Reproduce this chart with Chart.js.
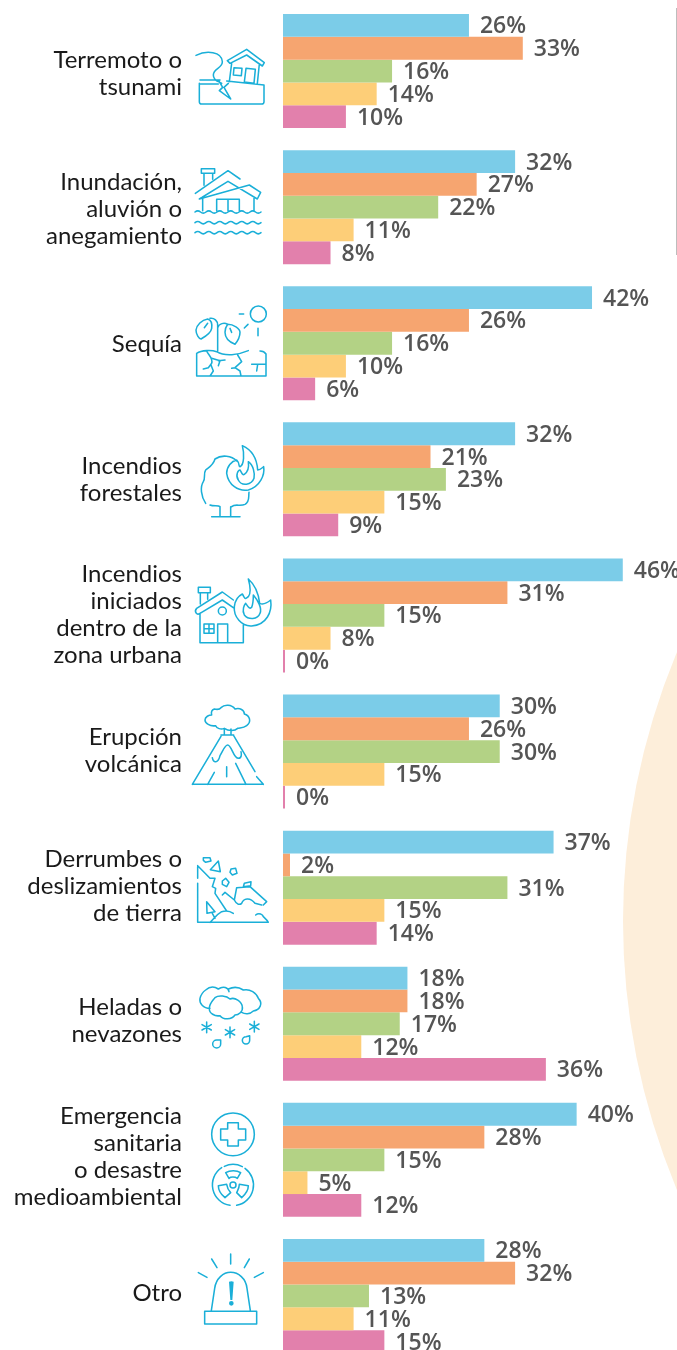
<!DOCTYPE html>
<html lang="es">
<head>
<meta charset="utf-8">
<title>Emergencias y desastres</title>
<script src="https://cdn.jsdelivr.net/npm/chart.js@4"></script>
<style>
html,body{margin:0;padding:0;background:#fff;overflow:hidden}
#wrap{width:677px;height:1350px;overflow:hidden;position:relative}
canvas{display:block}
</style>
</head>
<body>
<div id="wrap"><canvas id="c" width="677" height="1370"></canvas></div>
<script>
const categories = [
  ["Terremoto o","tsunami"],
  ["Inundación,","aluvión o","anegamiento"],
  ["Sequía"],
  ["Incendios","forestales"],
  ["Incendios","iniciados","dentro de la","zona urbana"],
  ["Erupción","volcánica"],
  ["Derrumbes o","deslizamientos","de tierra"],
  ["Heladas o","nevazones"],
  ["Emergencia","sanitaria","o desastre","medioambiental"],
  ["Otro"]
];
const seriesBlue   = [26,32,42,32,46,30,37,18,40,28];
const seriesOrange = [33,27,26,21,31,26, 2,18,28,32];
const seriesGreen  = [16,22,16,23,15,30,31,17,15,13];
const seriesYellow = [14,11,10,15, 8,15,15,12, 5,11];
const seriesPink   = [10, 8, 6, 9, 0, 0,14,36,12,15];

const ICON = '#1AAFD8';
const labelNudge = [3,2,1,0,-1,-1,-1,-3,-3,-3];
const waves = (x0, x1, y, p, a) => {
  let d = 'M' + x0 + ' ' + y;
  for (let x = x0, up = true; x < x1; x += p / 2, up = !up) {
    d += ' Q' + (x + p / 4) + ' ' + (y + (up ? -a : a)) + ' ' + (x + p / 2) + ' ' + y;
  }
  return d;
};
const flake = (x, y, r) =>
  `M${x} ${y-r} L${x} ${y+r} M${x-r*.87} ${y-r*.5} L${x+r*.87} ${y+r*.5} M${x-r*.87} ${y+r*.5} L${x+r*.87} ${y-r*.5} `;
const circ = (x, y, r) => `M${x+r} ${y} A${r} ${r} 0 1 1 ${x-r} ${y} A${r} ${r} 0 1 1 ${x+r} ${y} `;

const icons = [
  {x:0,y:0,d:"M588 166 C620 150 665 155 667 185 C668 205 640 205 640 225 C640 245 660 245 665 250 M600 240 L660 240 M598 250 L598 305 Q598 312 605 312 L785 312 Q792 312 792 305 L792 255 L680 243 M598 252 L655 252 M655 240 L668 262 L658 272 L692 297 L672 262 L685 250 M682 182 L740 148 L793 188 L787 198 L740 165 L690 190 Z M695 190 L688 245 M778 192 L772 250 M702 203 L726 205 L724 227 L700 225 Z M738 205 L766 208 L762 250 L733 246 Z"},
  {x:0,y:0,d:"M604 506 L644 506 L644 520 L604 520 Z M612 520 L612 556 M638 520 L638 538 M586 580 L684 512 L720 537 M748 555 L782 577 L772 597 L684 544 L598 597 Z M608 590 L608 632 M762 590 L762 632 M650 632 L650 598 L718 598 L718 632 M684 598 L684 632 " + waves(585,782,636,33,7) + waves(585,782,668,33,7) + waves(585,782,698,33,7)},
  {x:185,y:295,d:circ(220,57,24) + "M163 57 L176 57 M178 99 L189 88 M219 100 L219 122 M98 168 L98 90 C98 78 88 68 75 70 M68 72 C50 75 35 90 33 105 C33 118 42 132 48 132 C60 125 78 115 80 100 C82 85 78 75 68 72 Z M68 85 L58 98 M128 88 C145 88 165 100 165 112 C165 128 155 142 150 148 C135 142 120 130 120 112 C120 100 125 92 128 88 Z M98 98 C102 85 118 82 128 88 M135 100 L140 112 M35 243 L35 175 C50 165 80 165 95 170 C120 185 160 180 190 167 M225 168 C232 168 240 172 243 177 L243 243 L35 243 M65 168 C70 180 85 190 80 205 L70 218 L55 222 M80 190 L105 197 L100 212 M100 197 L120 195 M78 210 L85 228 L75 243 M158 180 L170 200 L150 218 L140 220 M150 218 L165 228 L168 243 M200 208 L243 208 M218 208 L215 228"},
  {x:185,y:435,d:"M155 78 C140 62 110 58 90 72 C85 90 75 95 62 105 C55 115 62 130 55 140 C45 155 48 185 62 205 M75 210 C85 215 100 210 105 215 M140 215 C150 205 165 215 180 208 C195 200 190 185 192 172 M105 215 L105 245 M137 215 L137 245 M80 245 L165 245 M172 32 C190 40 215 60 218 105 C225 105 230 100 236 95 C240 120 225 155 190 165 C160 170 130 150 125 115 C125 95 140 78 155 75 C165 85 160 95 165 95 C178 90 178 55 172 32 Z M190 80 C205 90 210 115 207 130 C200 150 170 155 160 135 C150 120 160 105 165 105 C170 112 172 122 178 118 C190 110 192 95 190 80 Z"},
  {x:185,y:570,d:"M40 52 L76 52 L76 68 L40 68 Z M46 68 L46 102 M68 68 L68 88 M145 90 L112 66 L35 115 Q28 122 34 130 Q38 135 45 130 L112 90 L148 115 M45 130 L45 218 L175 218 L175 165 M98 218 L98 162 L128 162 L128 218 M57 162 L87 162 L87 190 L57 190 Z M72 162 L72 190 M57 176 L87 176 " + circ(112,123,12) + "M190 27 C205 40 220 65 224 100 C235 105 245 100 257 90 C262 125 245 165 200 168 C170 170 145 140 148 110 C150 90 160 78 172 72 C180 85 178 90 190 80 C198 70 195 45 190 27 Z M205 75 C218 90 232 115 225 130 C218 150 190 150 178 135 C170 120 178 105 182 100 C190 112 195 118 200 112 C205 100 205 85 205 75 Z"},
  {x:185,y:695,d:"M88 42 C100 45 105 42 108 38 C118 28 140 28 150 42 C165 38 178 45 178 57 C195 62 200 80 185 92 C175 100 165 98 158 100 C148 110 130 108 118 100 C108 105 95 100 92 92 C75 95 60 85 60 75 C60 65 72 60 80 60 C78 52 80 45 88 42 M118 102 L118 120 M138 102 L138 120 M108 120 L146 120 M108 124 L22 268 M146 122 L210 230 M215 245 L235 268 M22 268 L235 268 M105 182 C100 205 85 205 82 188 M105 182 C115 165 120 150 128 150 C140 150 145 190 160 190 C170 190 170 178 168 170 M125 215 L125 245 M88 232 L68 268 M152 205 L183 268"},
  {x:185,y:845,d:"M55 38 L75 38 L78 48 L62 52 L55 46 Z M100 48 L106 80 L76 74 Z M138 72 L152 70 L156 85 L142 90 L135 82 Z M112 108 L122 100 L132 112 L125 125 L112 118 Z M38 115 L38 232 L250 232 C245 222 235 218 232 210 C225 205 218 205 212 210 M38 65 L38 100 M38 62 L75 100 L90 100 L82 125 L92 130 L90 145 L125 198 M65 170 L90 200 L66 205 Z M82 205 L90 220 M75 232 C85 225 92 210 110 200 C125 195 135 198 145 205 M155 128 L195 125 L245 170 L235 180 M155 128 L148 165 L120 142 L112 150 M148 165 C155 180 165 180 170 175 C175 160 195 155 210 175 L230 180 M178 115 L198 110 L197 122 L175 125 Z"},
  {x:185,y:975,d:"M75 100 C55 100 42 85 45 70 C48 58 55 50 62 45 C75 33 90 35 100 42 C115 32 130 38 132 50 M130 42 C145 35 160 35 175 45 C195 40 215 55 220 70 C235 85 225 105 205 108 C195 118 180 118 170 112 M90 68 C100 60 125 62 135 72 C150 65 170 80 172 95 C175 110 160 120 150 120 C140 135 115 135 105 122 C90 125 72 115 73 100 C73 85 85 75 90 68 Z " + flake(65,157,16) + flake(135,172,16) + flake(208,155,16) + "M107 195 L107 207 A12 12 0 1 1 95 195 Z M194 182 L194 196 A11 11 0 1 1 183 185 Z"},
  {x:180,y:1090,d:circ(159,133,64) + "M143 98 L175 98 L175 117 L197 117 L197 150 L175 150 L175 168 L143 168 L143 150 L122 150 L122 117 L143 117 Z M150 346 A62 62 0 0 1 125 233 M133 229 A62 62 0 0 1 187 230 M195 235 A62 62 0 0 1 170 346 " + circ(159,285,9) + "M137 248 C150 240 170 240 182 248 L172 265 C165 260 152 260 147 265 Z M115 287 L140 283 C142 295 147 303 152 308 L135 323 C122 312 115 300 115 287 Z M205 287 L178 283 C178 295 172 303 170 308 L185 323 C197 312 205 300 205 287 Z"},
  {x:180,y:1090,d:"M152 492 L152 522 M95 507 L111 533 M208 507 L193 533 M55 548 L81 562 M250 548 L223 562 M94 662 L104 595 C108 565 130 547 152 547 C175 547 198 565 201 595 L211 662 M74 664 L230 664 L230 702 L74 702 Z"},
  {x:180,y:1090,fill:true,d:"M147 575 Q154 572 161 575 L157 630 L151 630 Z " + circ(154,640,7)}
];

const decor = {
  id:'decor',
  beforeDraw(chart){
    const c = chart.ctx;
    c.save();
    c.fillStyle = '#FDEEDA';
    c.beginPath();
    c.arc(1320, 921, 697, 0, Math.PI * 2);
    c.fill();
    c.fillStyle = '#BDBDBD';
    c.fillRect(676, 8, 1, 247);
    c.restore();
    chart.scales.y.getLabelItems().forEach((it, i) => { it.options.translation[1] += labelNudge[i]; });
  },
  afterDraw(chart){
    const c = chart.ctx;
    for (const ic of icons) {
      c.save();
      c.translate(ic.x, ic.y);
      c.scale(1/3, 1/3);
      c.strokeStyle = ICON;
      c.fillStyle = ICON;
      c.lineWidth = 4.6;
      c.lineJoin = 'round';
      c.lineCap = 'round';
      const p = new Path2D(ic.d);
      if (ic.fill) c.fill(p); else c.stroke(p);
      c.restore();
    }
  }
};

const valueLabels = {
  id:'valueLabels',
  afterDatasetsDraw(chart){
    const c = chart.ctx;
    c.save();
    c.font = '600 23px "Open Sans"';
    c.fillStyle = '#555555';
    c.textAlign = 'left';
    c.textBaseline = 'middle';
    chart.data.datasets.forEach((ds, di) => {
      chart.getDatasetMeta(di).data.forEach((el, i) => {
        c.fillText(ds.data[i] + '%', Math.max(el.x, el.base) + 11, el.y + 1.5);
      });
    });
    c.restore();
  }
};

// Linear axis whose origin sits left of the plot: below-origin values rest on the left edge.
class ClampedLinear extends Chart.LinearScale {
  getPixelForValue(v){ return Math.max(super.getPixelForValue(v), this.left); }
}
ClampedLinear.id = 'clampedLinear';
ClampedLinear.defaults = Chart.LinearScale.defaults;
Chart.register(ClampedLinear);

const mk = (data, color, extra) => Object.assign({data, backgroundColor:color, borderWidth:0, barPercentage:1, categoryPercentage:0.8376}, extra||{});

new Chart(document.getElementById('c'), {
  type:'bar',
  data:{
    labels:categories,
    datasets:[
      mk(seriesBlue,'#7BCCE8'),
      mk(seriesOrange,'#F6A570',{minBarLength:7}),
      mk(seriesGreen,'#B3D285'),
      mk(seriesYellow,'#FDCE78'),
      mk(seriesPink,'#E280AC',{minBarLength:2})
    ]
  },
  options:{
    indexAxis:'y',
    responsive:false,
    animation:false,
    devicePixelRatio:1,
    layout:{padding:{top:3,bottom:6,left:0,right:0}},
    plugins:{legend:{display:false},tooltip:{enabled:false},title:{display:false}},
    scales:{
      x:{type:'clampedLinear',display:false,min:1.82,max:53.05,grid:{display:false}},
      y:{
        grid:{display:false,drawTicks:false},
        border:{display:false},
        afterFit(s){ s.width = 283; s.paddingTop = 0; s.paddingBottom = 0; },
        ticks:{
          autoSkip:false,
          padding:101,
          color:'#1A1A1A',
          font:{family:'Lato',size:24,lineHeight:1.125}
        }
      }
    }
  },
  plugins:[decor,valueLabels]
});
</script>
</body>
</html>
